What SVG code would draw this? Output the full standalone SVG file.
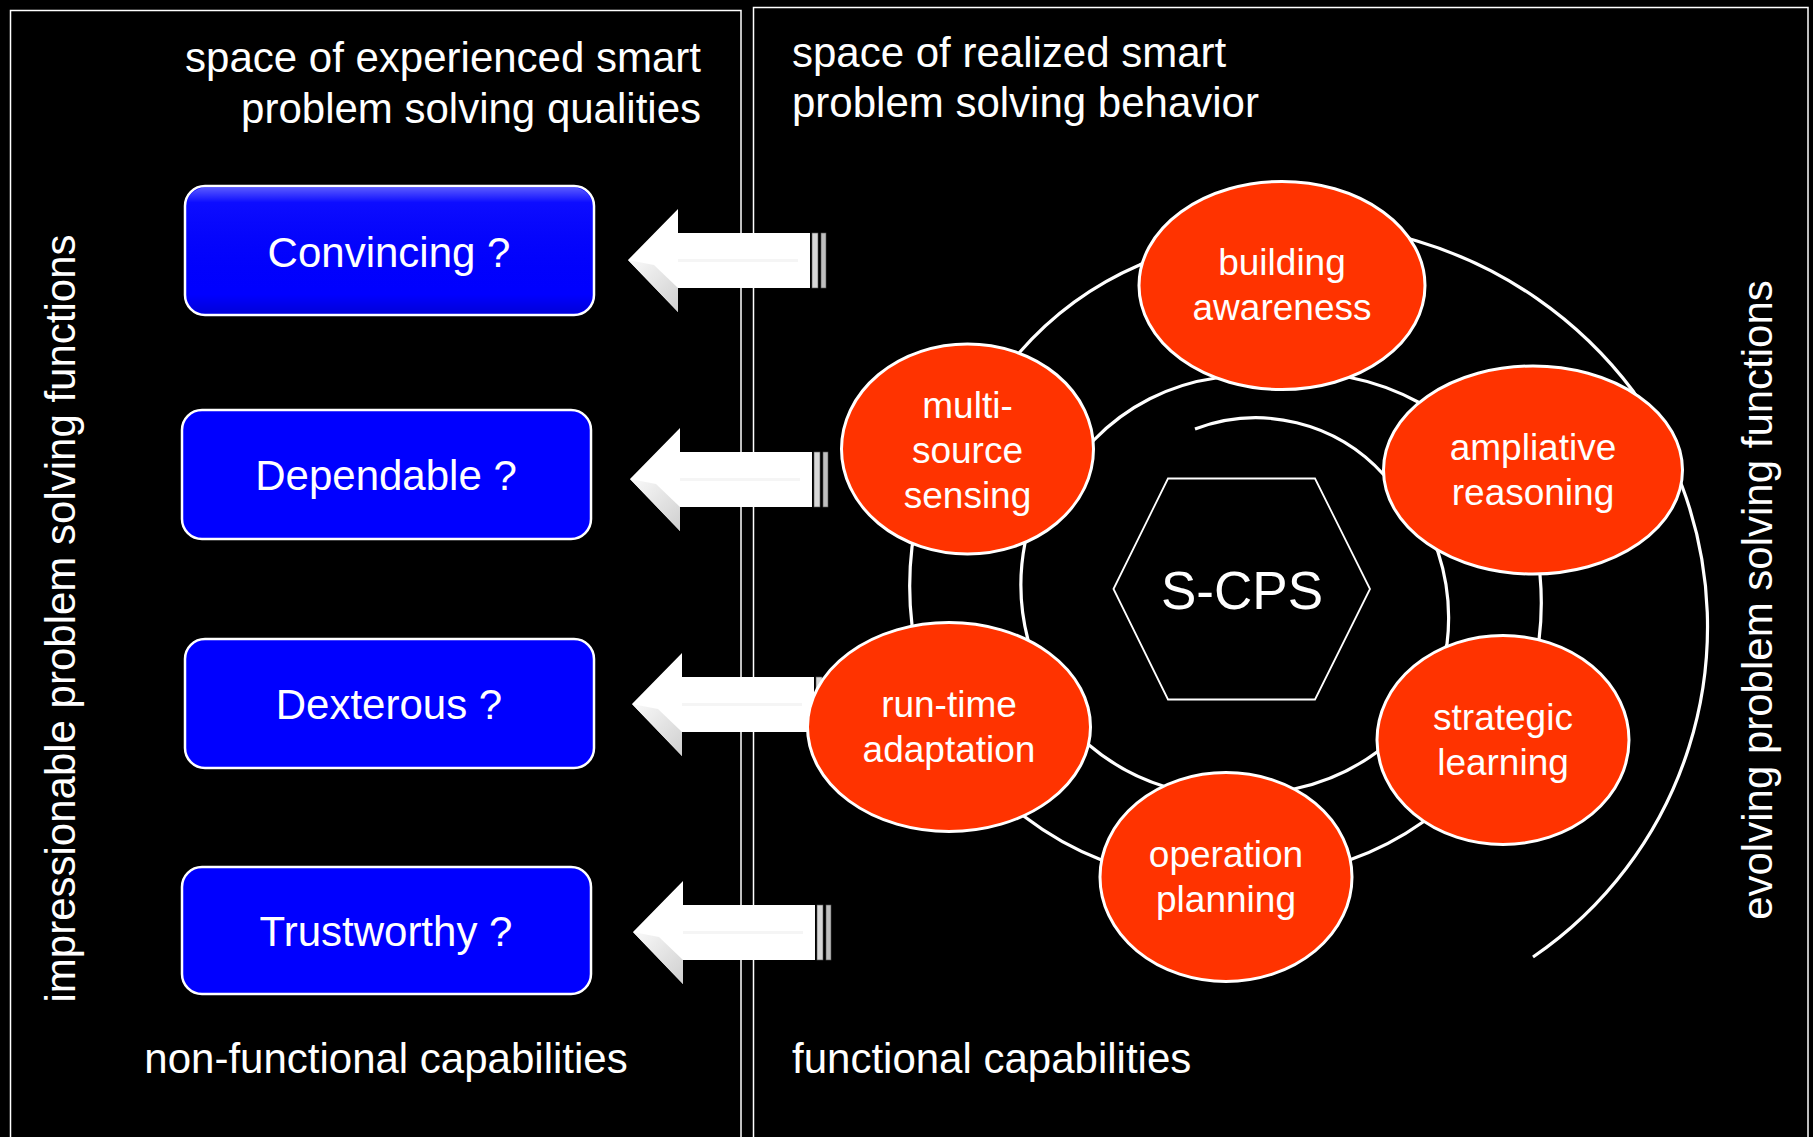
<svg xmlns="http://www.w3.org/2000/svg" width="1813" height="1137" viewBox="0 0 1813 1137">
<style>
.panel{fill:none;stroke:#ffffff;stroke-width:1.5}
.t{font-family:"Liberation Sans",Arial,sans-serif;fill:#ffffff}
.big{font-size:42px}
.node{font-size:37px;text-anchor:middle}
.box{fill:#0000ff;stroke:#ffffff;stroke-width:2.5}
.ell{fill:#ff3300;stroke:#ffffff;stroke-width:3}
.spiral{fill:none;stroke:#ffffff;stroke-width:3.2;stroke-linecap:butt}
</style>
<defs>
<linearGradient id="gloss" x1="0" y1="0" x2="0" y2="1">
<stop offset="0" stop-color="#ffffff" stop-opacity="0.35"/>
<stop offset="0.12" stop-color="#ffffff" stop-opacity="0.05"/>
<stop offset="0.85" stop-color="#000000" stop-opacity="0"/>
<stop offset="1" stop-color="#000000" stop-opacity="0.15"/>
</linearGradient>
<linearGradient id="facet" x1="0" y1="0" x2="1" y2="1">
<stop offset="0" stop-color="#fafafa"/>
<stop offset="1" stop-color="#cfcfcf"/>
</linearGradient>
<g id="arrow">
<polygon points="0,0 50,-51 50,-27 182,-27 182,28 50,28 50,52" fill="#ffffff"/>
<polygon points="0,0 50,52 50,28 26,5" fill="url(#facet)"/>
<rect x="50" y="-1" width="120" height="3" fill="#f5f5f5"/>
<rect x="184" y="-27" width="6" height="55" fill="#d8d8d8" stroke="#555" stroke-width="0.6"/>
<rect x="193" y="-27" width="5" height="55" fill="#bfbfbf" stroke="#555" stroke-width="0.6"/>
</g>
</defs>
<rect width="1813" height="1137" fill="#000000"/>

<g id="panels">
<rect class="panel" x="10.5" y="10.5" width="730.5" height="1140"/>
<rect class="panel" x="753.5" y="7.5" width="1054.5" height="1140"/>
</g>

<g id="labels">
<text class="t big" x="701" y="72" text-anchor="end">space of experienced smart</text>
<text class="t big" x="701" y="123" text-anchor="end">problem solving qualities</text>
<text class="t big" x="792" y="67">space of realized smart</text>
<text class="t big" x="792" y="117">problem solving behavior</text>
<text class="t big" x="386" y="1073" text-anchor="middle">non-functional capabilities</text>
<text class="t big" x="792" y="1073">functional capabilities</text>
<text class="t big" transform="translate(75,618.5) rotate(-90)" text-anchor="middle">impressionable problem solving functions</text>
<text class="t big" transform="translate(1771.5,600) rotate(-90)" text-anchor="middle">evolving problem solving functions</text>
</g>

<g id="connectors">
<path class="spiral" d="M 1195 429 A 172 172 0 0 1 1384 475 A 200 200 0 0 1 1438 552 A 211 211 0 0 1 1447 644 A 212 212 0 0 1 1377 752 A 212 212 0 0 1 1294 789 A 212 212 0 0 1 1166 787 A 214 214 0 0 1 1089 745 A 216 216 0 0 1 1028 640 A 218 218 0 0 1 1025 543 A 214 214 0 0 1 1094 440 A 210 210 0 0 1 1216 378 A 225 225 0 0 1 1348 377 A 250 250 0 0 1 1420 403 A 280 280 0 0 1 1540 575 A 300 300 0 0 1 1539 640 A 300 300 0 0 1 1423 822 A 296 296 0 0 1 1349.5 860 A 300 300 0 0 1 1101.5 860 A 312 312 0 0 1 1025 817 A 325 325 0 0 1 912 625 A 330 330 0 0 1 912 547 A 328 328 0 0 1 1019 353 A 335 335 0 0 1 1139.5 265 A 370 370 0 0 1 1417 241 A 420 420 0 0 1 1633 391 A 450 450 0 0 1 1682 486 A 400 400 0 0 1 1533 957"/>
<use href="#arrow" x="628" y="260"/>
<use href="#arrow" x="630" y="479"/>
<use href="#arrow" x="632" y="704"/>
<use href="#arrow" x="633" y="932"/>
</g>

<g id="box-convincing">
<rect class="box" x="185" y="186" width="409" height="129" rx="20"/>
<rect x="186.5" y="187.5" width="406" height="126" rx="19" fill="url(#gloss)"/>
<text class="t big" x="389" y="267" text-anchor="middle">Convincing ?</text>
</g>
<g id="box-dependable">
<rect class="box" x="182" y="410" width="409" height="129" rx="20"/>
<text class="t big" x="386" y="490" text-anchor="middle">Dependable ?</text>
</g>
<g id="box-dexterous">
<rect class="box" x="185" y="639" width="409" height="129" rx="20"/>
<text class="t big" x="389" y="719" text-anchor="middle">Dexterous ?</text>
</g>
<g id="box-trustworthy">
<rect class="box" x="182" y="867" width="409" height="127" rx="20"/>
<text class="t big" x="386" y="946" text-anchor="middle">Trustworthy ?</text>
</g>

<g id="scps">
<polygon points="1113.5,589 1168,478.5 1315,478.5 1370,589 1315,699.5 1168,699.5" fill="none" stroke="#ffffff" stroke-width="1.8"/>
<text class="t" x="1242" y="609" font-size="53" text-anchor="middle">S-CPS</text>
</g>

<g id="node-building-awareness">
<ellipse class="ell" cx="1282" cy="285.5" rx="143" ry="104"/>
<text class="t node" x="1282" y="275">building</text>
<text class="t node" x="1282" y="320">awareness</text>
</g>
<g id="node-multi-source-sensing">
<ellipse class="ell" cx="967.5" cy="449" rx="126" ry="105"/>
<text class="t node" x="967.5" y="418">multi-</text>
<text class="t node" x="967.5" y="463">source</text>
<text class="t node" x="967.5" y="508">sensing</text>
</g>
<g id="node-ampliative-reasoning">
<ellipse class="ell" cx="1533" cy="470" rx="149.5" ry="104"/>
<text class="t node" x="1533" y="460">ampliative</text>
<text class="t node" x="1533" y="505">reasoning</text>
</g>
<g id="node-run-time-adaptation">
<ellipse class="ell" cx="949" cy="727" rx="141.5" ry="104.5"/>
<text class="t node" x="949" y="717">run-time</text>
<text class="t node" x="949" y="762">adaptation</text>
</g>
<g id="node-strategic-learning">
<ellipse class="ell" cx="1503" cy="740" rx="126" ry="104.5"/>
<text class="t node" x="1503" y="730">strategic</text>
<text class="t node" x="1503" y="775">learning</text>
</g>
<g id="node-operation-planning">
<ellipse class="ell" cx="1226" cy="877" rx="126" ry="104.5"/>
<text class="t node" x="1226" y="867">operation</text>
<text class="t node" x="1226" y="912">planning</text>
</g>
</svg>
